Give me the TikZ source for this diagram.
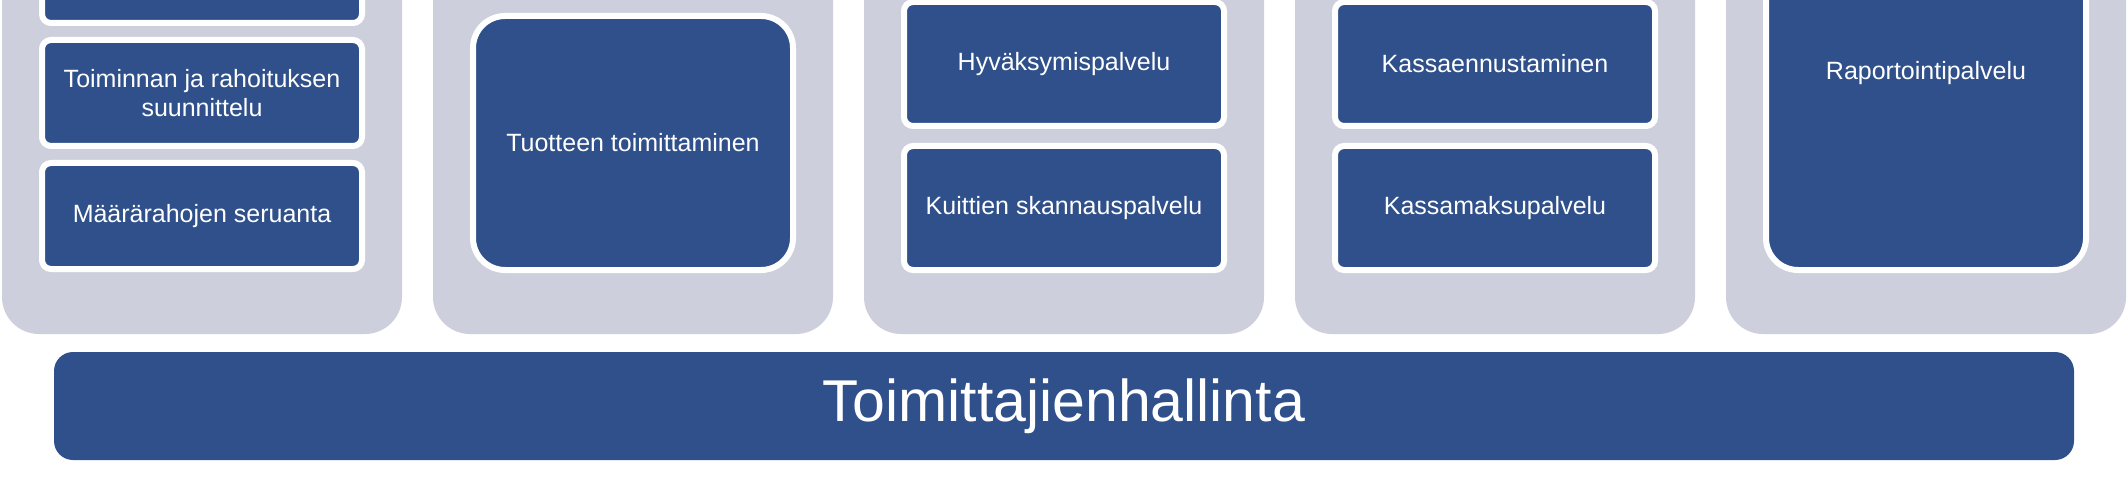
\documentclass[tikz,border=0pt]{standalone}
\usepackage{fontspec}
\setmainfont{Liberation Sans}
\usepackage{tikz}
\usetikzlibrary{positioning}
\definecolor{panelgray}{RGB}{205,208,220}
\definecolor{boxblue}{RGB}{47,80,138}

\begin{document}
\begin{tikzpicture}[x=1pt,y=1pt,
  panel/.style={fill=panelgray, rounded corners=37pt, minimum width=400pt, minimum height=394pt, inner sep=0pt},
  smallbox/.style={draw=white, line width=6pt, fill=boxblue, rounded corners=9pt, minimum width=320pt, inner sep=0pt, text=white, align=center, font=\fontsize{25}{29}\selectfont},
  bigbox/.style={smallbox, rounded corners=32pt},
  basebar/.style={fill=boxblue, rounded corners=19pt, minimum width=2020pt, minimum height=108pt, inner sep=0pt, text=white, font=\fontsize{59}{70}\selectfont}]
\useasboundingbox (0,0) rectangle (2128,480);

% columns
\node[panel] (p1) at (202,343) {};
\node[panel] (p2) at (633,343) {};
\node[panel] (p3) at (1064,343) {};
\node[panel] (p4) at (1495,343) {};
\node[panel] (p5) at (1926,343) {};

% column 1
\node[smallbox, minimum height=107pt] (c1a) at (202,510.5) {};
\node[smallbox, minimum height=106pt] (c1b) at (202,387) {Toiminnan ja rahoituksen\\suunnittelu};
\node[smallbox, minimum height=106pt] (c1c) at (202,264) {Määrärahojen seruanta};

% column 2
\node[bigbox, minimum height=254pt] (c2) at (633,337) {Tuotteen toimittaminen};

% column 3
\node[smallbox, minimum height=124pt] (c3a) at (1064,416) {Hyväksymispalvelu};
\node[smallbox, minimum height=124pt] (c3b) at (1064,272) {Kuittien skannauspalvelu};

% column 4
\node[smallbox, minimum height=124pt] (c4a) at (1495,416) {Kassaennustaminen};
\node[smallbox, minimum height=124pt] (c4b) at (1495,272) {Kassamaksupalvelu};

% column 5
\node[bigbox, minimum height=394pt] (c5) at (1926,407) {Raportointipalvelu};

% bottom bar
\node[basebar] (bar) at (1064,74) {Toimittajienhallinta};

\end{tikzpicture}
\end{document}
